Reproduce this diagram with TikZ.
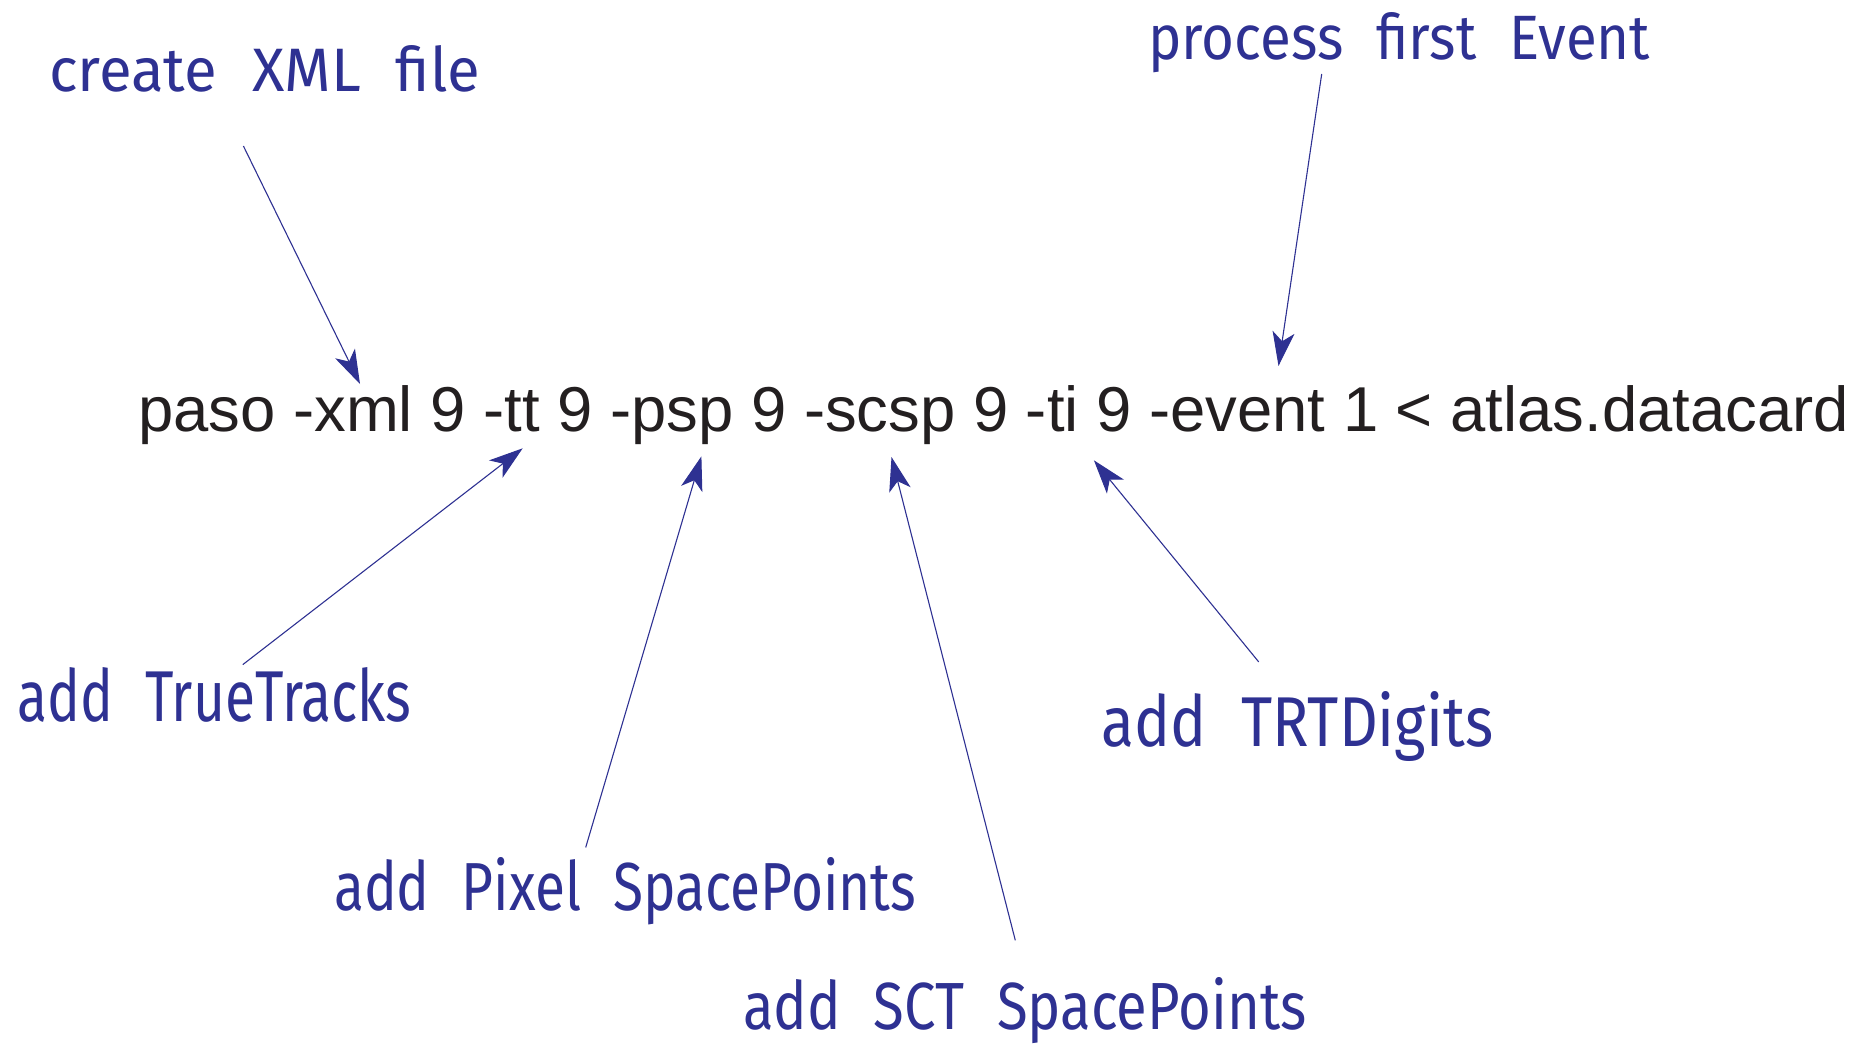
\documentclass[tikz,border=0pt]{standalone}
\usepackage{fontspec}
\setmainfont{Liberation Sans}
\newfontfamily\handfont[WordSpace=2.2]{Fira Sans}
\usetikzlibrary{arrows.meta}
\definecolor{inkblue}{RGB}{46,49,146}
\definecolor{inkblack}{RGB}{35,31,32}
\tikzset{
  hand/.style={inner sep=0pt, anchor=base west, text=inkblue, font=\handfont},
  cmdline/.style={inner sep=0pt, anchor=base west, text=inkblack, font=\fontsize{63.4pt}{76pt}\selectfont},
  pointer/.style={draw=inkblue, line width=1.1pt, -{Stealth[length=34pt,width=22pt,inset=9pt]}}
}
\begin{document}
\begin{tikzpicture}[x=1pt,y=-1pt]
\useasboundingbox (0,0) rectangle (1875,1052);
% command line
\node[cmdline] (cmd) at (138,431) {paso -xml 9 -tt 9 -psp 9 -scsp 9 -ti 9 -event 1 < atlas.datacard};
% labels
\node[hand] (xml) at (49,91) {\resizebox{431pt}{46pt}{create XML file}};
\node[hand] (evt) at (1148,59) {\resizebox{502pt}{47pt}{process first Event}};
\node[hand] (tt) at (17,721) {\resizebox{394pt}{54pt}{add TrueTracks}};
\node[hand] (psp) at (334,910) {\resizebox{582pt}{53pt}{add Pixel SpacePoints}};
\node[hand] (scsp) at (743,1029) {\resizebox{563pt}{52pt}{add SCT SpacePoints}};
\node[hand] (ti) at (1101,746) {\resizebox{392pt}{55pt}{add TRTDigits}};
% arrow ends
\coordinate (xmlS) at (243.4,146);   \coordinate (xmlT) at (360,384);
\coordinate (evtS) at (1321.7,74);   \coordinate (evtT) at (1278.5,366);
\coordinate (ttS) at (242.8,664.6);  \coordinate (ttT) at (522.7,448.3);
\coordinate (pspS) at (585.7,847.4); \coordinate (pspT) at (701.4,456.3);
\coordinate (scspS) at (1015.3,940.3); \coordinate (scspT) at (891.5,457);
\coordinate (tiS) at (1258.7,661.9); \coordinate (tiT) at (1093.9,460.3);
% arrows
\draw[pointer] (xmlS) -- (xmlT);
\draw[pointer] (evtS) -- (evtT);
\draw[pointer] (ttS) -- (ttT);
\draw[pointer] (pspS) -- (pspT);
\draw[pointer] (scspS) -- (scspT);
\draw[pointer] (tiS) -- (tiT);
\end{tikzpicture}
\end{document}
